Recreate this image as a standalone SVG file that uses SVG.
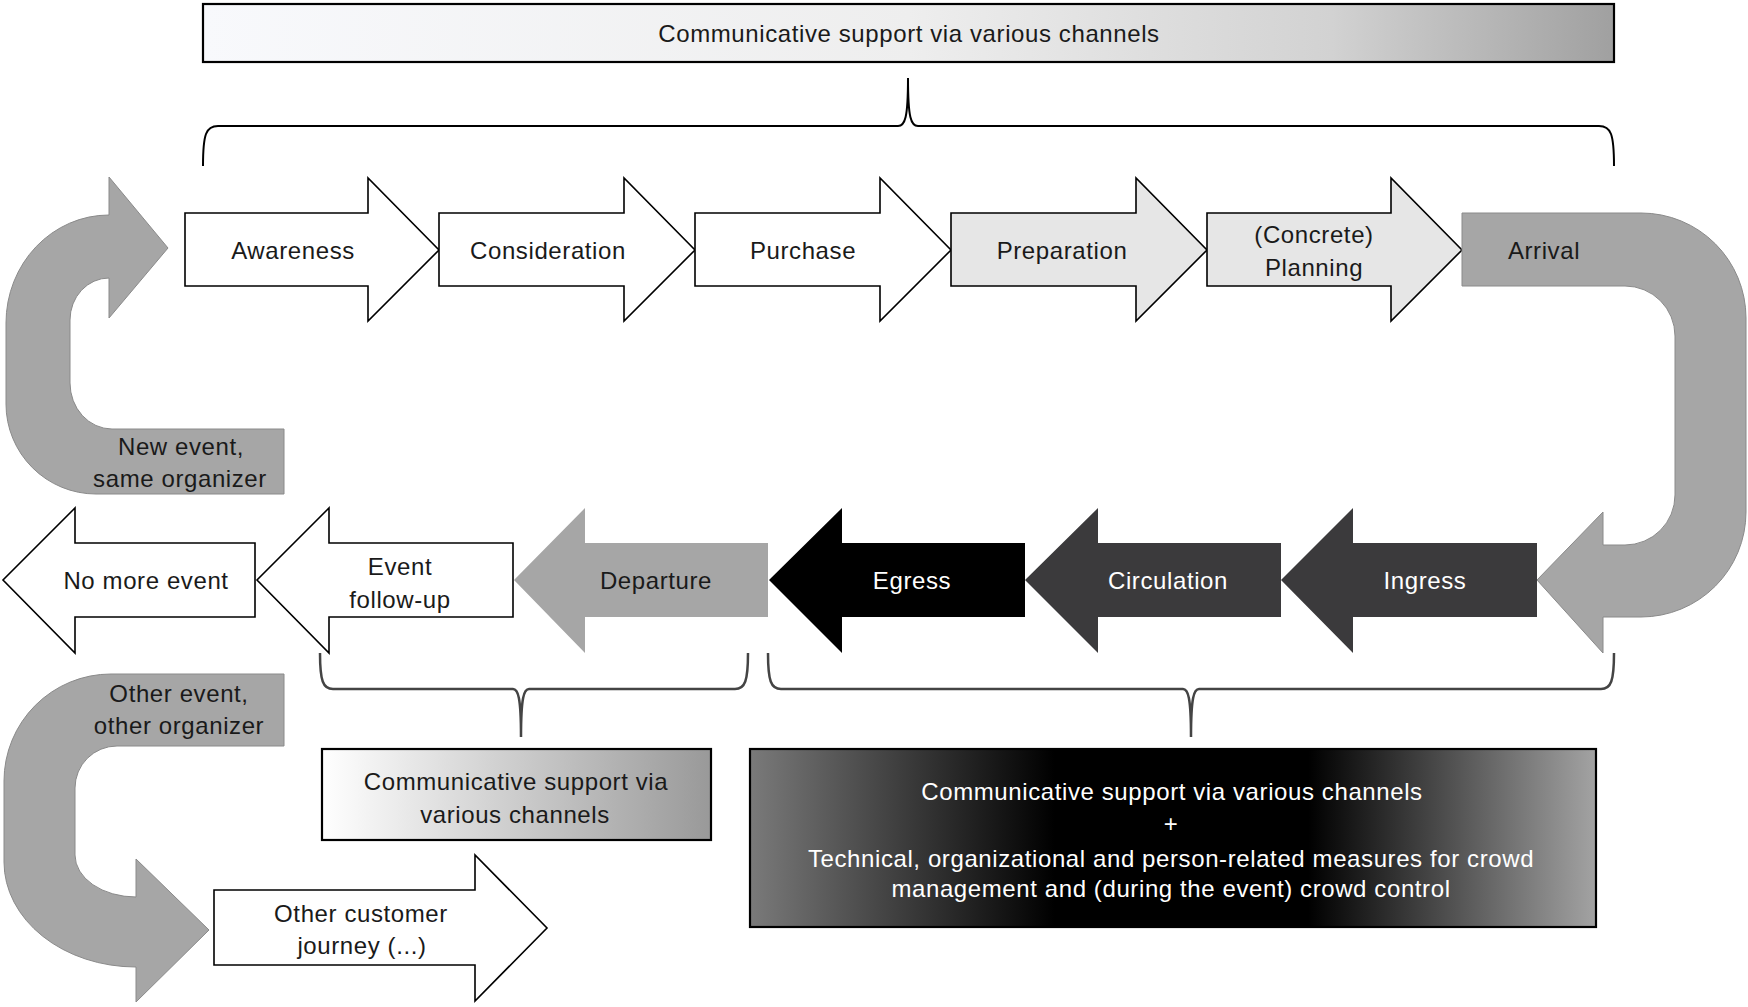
<svg xmlns="http://www.w3.org/2000/svg" width="1748" height="1007" viewBox="0 0 1748 1007">
<defs>
<linearGradient id="gTop" x1="0" y1="0" x2="1" y2="0">
<stop offset="0" stop-color="#f8f9fc"/>
<stop offset="0.5" stop-color="#eeeeee"/>
<stop offset="0.8" stop-color="#d2d2d2"/>
<stop offset="1" stop-color="#a0a0a0"/>
</linearGradient>
<linearGradient id="gLeft" x1="0" y1="0" x2="1" y2="0">
<stop offset="0" stop-color="#ffffff"/>
<stop offset="1" stop-color="#999999"/>
</linearGradient>
<linearGradient id="gDark" x1="0" y1="0" x2="1" y2="0">
<stop offset="0" stop-color="#7a7a7a"/>
<stop offset="0.36" stop-color="#000000"/>
<stop offset="0.66" stop-color="#000000"/>
<stop offset="1" stop-color="#a3a3a3"/>
</linearGradient>
</defs>
<style>
text{font-family:"Liberation Sans",Arial,sans-serif;font-size:24px;letter-spacing:0.6px;text-anchor:middle;fill:#1a1a1a}
.w{fill:#ffffff}
.white{fill:#ffffff;stroke:#000;stroke-width:1.6;stroke-linejoin:miter}
.light{fill:#e6e6e6;stroke:#000;stroke-width:1.6}
.gray{fill:#a6a6a6;stroke:#8a8a8a;stroke-width:1}
.dark{fill:#3b3a3c}
.black{fill:#000000}
.box{stroke:#000;stroke-width:2.2}
.brace{fill:none;stroke:#000;stroke-width:2}
.brace2{fill:none;stroke:#444;stroke-width:2.5}
</style>

<g id="top-box">
<rect class="box" x="203" y="4" width="1411" height="58" fill="url(#gTop)"/>
<text x="909" y="42">Communicative support via various channels</text>
</g>

<g id="connectors">
<path class="brace" d="M203,166 C203,134 206,126 218,126 H898 C905,126 908,118 908,78 C908,118 911,126 918,126 H1599 C1611,126 1614,134 1614,166"/>
<path class="brace2" d="M320,653 C320,681 323,689 333,689 H513 C518,689 521,697 521,737 C521,697 524,689 529,689 H735 C745,689 748,681 748,653"/>
<path class="brace2" d="M768,653 C768,681 771,689 781,689 H1183 C1188,689 1191,697 1191,737 C1191,697 1194,689 1199,689 H1601 C1611,689 1614,681 1614,653"/>
</g>

<g id="new-event">
<path class="gray" d="M284,429 H112 A42,46 0 0 1 70,383 V320 A39,42 0 0 1 109,278 V318 L168,248 L109,177 V215 A103,108 0 0 0 6,323 V404 A90,90 0 0 0 96,494 H284 Z"/>
<text x="181" y="455">New event,</text>
<text x="180" y="487">same organizer</text>
</g>

<g id="awareness">
<polygon class="white" points="185,213 368,213 368,178 439,250 368,321 368,286 185,286"/>
<text x="293" y="259">Awareness</text>
</g>
<g id="consideration">
<polygon class="white" points="439,213 624,213 624,178 695,250 624,321 624,286 439,286"/>
<text x="548" y="259">Consideration</text>
</g>
<g id="purchase">
<polygon class="white" points="695,213 880,213 880,178 951,250 880,321 880,286 695,286"/>
<text x="803" y="259">Purchase</text>
</g>
<g id="preparation">
<polygon class="light" points="951,213 1136,213 1136,178 1207,250 1136,321 1136,286 951,286"/>
<text x="1062" y="259">Preparation</text>
</g>
<g id="planning">
<polygon class="light" points="1207,213 1391,213 1391,178 1462,250 1391,321 1391,286 1207,286"/>
<text x="1314" y="243">(Concrete)</text>
<text x="1314" y="276">Planning</text>
</g>

<g id="arrival">
<path class="gray" d="M1462,213 H1641 A105,105 0 0 1 1746,318 V512 A105,105 0 0 1 1641,617 H1603 V653 L1537,580 L1603,512 V545 H1625 A50,50 0 0 0 1675,495 V336 A50,50 0 0 0 1625,286 H1462 Z"/>
<text x="1544" y="259">Arrival</text>
</g>

<g id="ingress">
<polygon class="dark" points="1537,543 1353,543 1353,508 1281,580 1353,653 1353,617 1537,617"/>
<text class="w" x="1425" y="589">Ingress</text>
</g>
<g id="circulation">
<polygon class="dark" points="1281,543 1098,543 1098,508 1025,580 1098,653 1098,617 1281,617"/>
<text class="w" x="1168" y="589">Circulation</text>
</g>
<g id="egress">
<polygon class="black" points="1025,543 842,543 842,508 769,580 842,653 842,617 1025,617"/>
<text class="w" x="912" y="589">Egress</text>
</g>
<g id="departure">
<polygon fill="#a6a6a6" points="768,543 585,543 585,508 514,580 585,653 585,617 768,617"/>
<text x="656" y="589">Departure</text>
</g>
<g id="event-follow-up">
<polygon class="white" points="513,543 329,543 329,508 257,580 329,653 329,617 513,617"/>
<text x="400" y="575">Event</text>
<text x="400" y="608">follow-up</text>
</g>
<g id="no-more-event">
<polygon class="white" points="255,543 75,543 75,508 3,580 75,653 75,617 255,617"/>
<text x="146" y="589">No more event</text>
</g>

<g id="other-event">
<path class="gray" d="M284,674 H111 A107,107 0 0 0 4,781 V862 A132,105 0 0 0 136,967 V1002 L209,930 L136,859 V897 A61,42 0 0 1 75,855 V788 A42,42 0 0 1 117,746 H284 Z"/>
<text x="179" y="702">Other event,</text>
<text x="179" y="734">other organizer</text>
</g>

<g id="other-customer-journey">
<polygon class="white" points="214,890 475,890 475,855 547,928 475,1001 475,965 214,965"/>
<text x="361" y="922">Other customer</text>
<text x="362" y="954">journey (...)</text>
</g>

<g id="support-box-left">
<rect class="box" x="322" y="749" width="389" height="91" fill="url(#gLeft)"/>
<text x="516" y="790">Communicative support via</text>
<text x="515" y="823">various channels</text>
</g>

<g id="support-box-right">
<rect class="box" x="750" y="749" width="846" height="178" fill="url(#gDark)"/>
<text class="w" x="1172" y="800">Communicative support via various channels</text>
<text class="w" x="1171" y="832">+</text>
<text class="w" x="1171" y="867">Technical, organizational and person-related measures for crowd</text>
<text class="w" x="1171" y="897">management and (during the event) crowd control</text>
</g>
</svg>
